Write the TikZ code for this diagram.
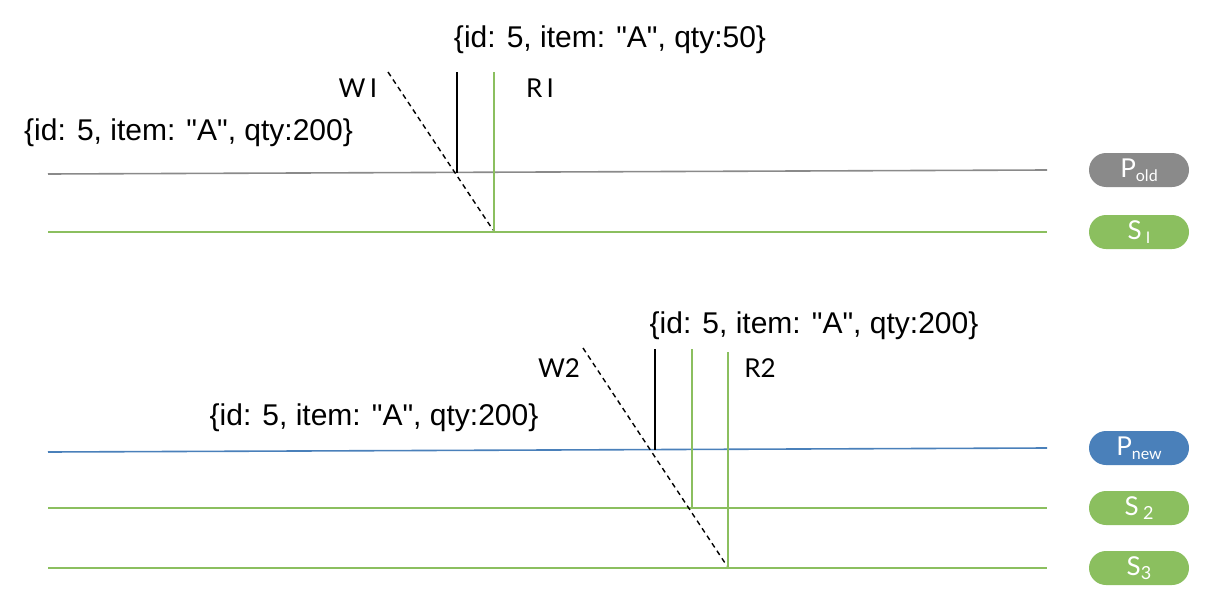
\documentclass[tikz,border=0pt]{standalone}
\usepackage{fontspec}
\setmainfont{Liberation Sans}
\newfontfamily\recfont{Liberation Sans}
\newfontfamily\labfont{Lato}
\begin{document}
\begin{tikzpicture}[x=1pt,y=-1pt,
  lane/.style={line width=1.6pt},
  pill/.style={rectangle, rounded corners=17pt, minimum width=100pt, minimum height=34pt, inner sep=0pt, text=white, font=\labfont\fontsize{26}{28}\selectfont},
  rec/.style={font=\recfont\fontsize{30}{34}\selectfont, inner sep=0pt},
  wlab/.style={font=\labfont\fontsize{26}{30}\selectfont, inner sep=0pt},
  dashline/.style={dashed, dash pattern=on 5pt off 4pt, line width=1.4pt},
  tick/.style={line width=1.6pt}]
\definecolor{cgray}{HTML}{8A8A8A}
\definecolor{cgreen}{HTML}{8BBF5F}
\definecolor{cblue}{HTML}{4A80BA}
\useasboundingbox (0,0) rectangle (1216,616);
% ---- top
\coordinate (po1) at (48,174); \coordinate (po2) at (1047,170);
\coordinate (s11) at (48,232); \coordinate (s12) at (1047,232);
\draw[lane, cgray] (po1) -- (po2);
\draw[lane, cgreen] (s11) -- (s12);
\node[pill, fill=cgray] (pold) at (1139,170) {P\raisebox{-0.3ex}{\fontsize{16}{17}\selectfont old}};
\node[pill, fill=cgreen] (s1) at (1139,232) {S\,\raisebox{-0.3ex}{\fontsize{16}{17}\selectfont I}};
\coordinate (w1a) at (388,72); \coordinate (w1b) at (493,230);
\draw[dashline] (w1a) -- (w1b);
\coordinate (k1a) at (457,72); \coordinate (k1b) at (457,173);
\draw[tick, black] (k1a) -- (k1b);
\coordinate (g1a) at (494,72); \coordinate (g1b) at (494,232);
\draw[tick, cgreen] (g1a) -- (g1b);
\node[rec] (t1) at (610,40) {\{id: 5, item: "A", qty:50\}};
\node[rec, anchor=west] (t2) at (24,133) {\{id: 5, item: "A", qty:200\}};
\node[wlab] (w1) at (358,88) {W\,I};
\node[wlab] (r1) at (540,88) {R\,I};
% ---- bottom
\coordinate (pn1) at (48,452); \coordinate (pn2) at (1047,448);
\coordinate (s21) at (48,508); \coordinate (s22) at (1047,508);
\coordinate (s31) at (48,568); \coordinate (s32) at (1047,568);
\draw[lane, cblue] (pn1) -- (pn2);
\draw[lane, cgreen] (s21) -- (s22);
\draw[lane, cgreen] (s31) -- (s32);
\node[pill, fill=cblue] (pnew) at (1139,448) {P\raisebox{-0.3ex}{\fontsize{16}{17}\selectfont new}};
\node[pill, fill=cgreen] (s2) at (1139,508) {S\,\raisebox{-0.3ex}{\fontsize{18}{19}\selectfont 2}};
\node[pill, fill=cgreen] (s3) at (1139,568) {S\raisebox{-0.3ex}{\fontsize{18}{19}\selectfont 3}};
\coordinate (w2a) at (583,348); \coordinate (w2b) at (727,566);
\draw[dashline] (w2a) -- (w2b);
\coordinate (k2a) at (655,349); \coordinate (k2b) at (655,450);
\draw[tick, black] (k2a) -- (k2b);
\coordinate (g2a) at (692,349); \coordinate (g2b) at (692,507);
\draw[tick, cgreen] (g2a) -- (g2b);
\coordinate (g3a) at (728,352); \coordinate (g3b) at (728,568);
\draw[tick, cgreen] (g3a) -- (g3b);
\node[rec] (t3) at (814,326) {\{id: 5, item: "A", qty:200\}};
\node[rec] (t4) at (374,418) {\{id: 5, item: "A", qty:200\}};
\node[wlab] (w2) at (559,368) {W2};
\node[wlab] (r2) at (760,368) {R2};
\end{tikzpicture}
\end{document}
